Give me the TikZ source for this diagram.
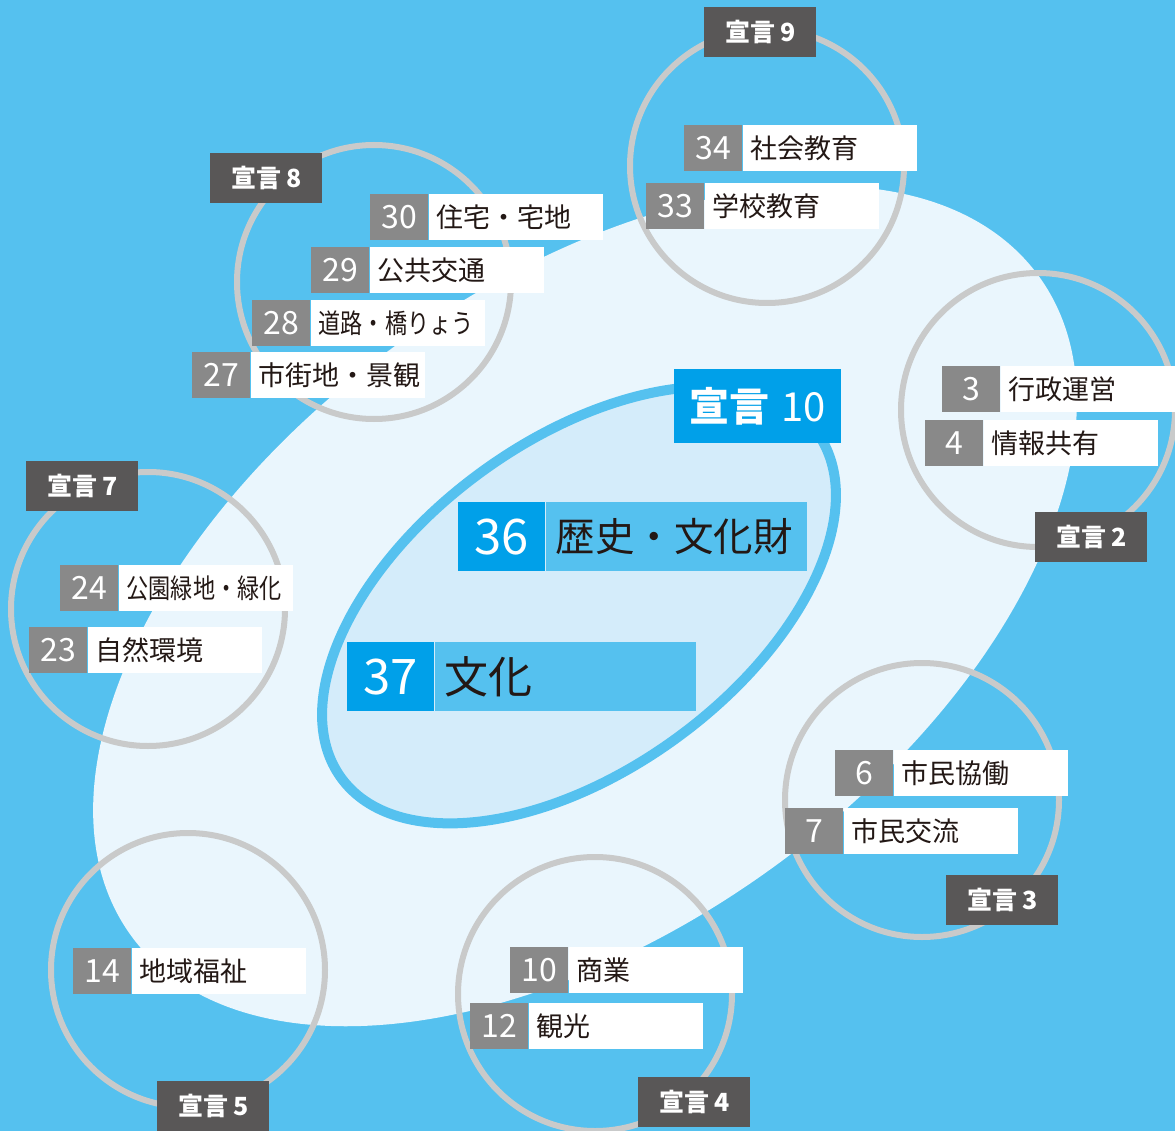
\documentclass[tikz,border=0pt]{standalone}
\usepackage{fontspec}
\usepackage{graphicx}
\setmainfont{Noto Sans CJK JP}
\definecolor{bgblue}{HTML}{55C1EF}
\definecolor{bigfill}{HTML}{EAF6FD}
\definecolor{innerfill}{HTML}{D4ECFA}
\definecolor{ringgray}{HTML}{C9CACA}
\definecolor{numgray}{HTML}{898989}
\definecolor{declgray}{HTML}{595757}
\definecolor{cyanbox}{HTML}{00A0E9}
\definecolor{inktext}{HTML}{231815}
\tikzset{
  ring/.style={draw=ringgray, line width=6pt},
  numbox/.style={fill=numgray, text=white, minimum width=58pt, minimum height=46pt, inner sep=0pt, font=\fontsize{32}{32}\selectfont},
  txtbox/.style={fill=white, text=inktext, text width=158pt, align=left, inner xsep=8pt, inner ysep=0pt, minimum height=46pt, font=\fontsize{27}{27}\selectfont},
  numbig/.style={fill=cyanbox, text=white, minimum width=87pt, minimum height=69pt, inner sep=0pt, font=\fontsize{49}{49}\selectfont},
  txtbig/.style={fill=bgblue, text=inktext, text width=241pt, align=left, inner xsep=10pt, inner ysep=0pt, minimum height=69pt, font=\fontsize{39.5}{40}\selectfont},
  declbox/.style={fill=declgray, text=white, minimum width=112pt, minimum height=50pt, inner sep=0pt, font=\bfseries\fontsize{25}{25}\selectfont},
  declbig/.style={fill=cyanbox, text=white, minimum width=167pt, minimum height=74pt, inner sep=0pt, font=\bfseries\fontsize{40}{40}\selectfont}
}
\newcommand\itemrow[5]{%
  \node[numbox, anchor=north west] (#1n) at (#2,#3) {#4};
  \node[txtbox, anchor=west] (#1t) at (#1n.east) {#5};}
\newcommand\bigrow[5]{%
  \node[numbig, anchor=north west] (#1n) at (#2,#3) {#4};
  \node[txtbig, anchor=west] (#1t) at (#1n.east) {#5};}
\newcommand\narrowtxt[1]{\scalebox{0.82}[1]{#1}}
\begin{document}
\begin{tikzpicture}[x=1pt, y=-1pt]
\useasboundingbox (0,0) rectangle (1175,1131);
\fill[bgblue] (0,0) rectangle (1175,1131);
% big ellipse
\begin{scope}[shift={(585,606)}, rotate=36]
  \fill[bigfill] (0,0) ellipse (561 and 322);
\end{scope}
% inner ellipse
\begin{scope}[shift={(579,605)}, rotate=36]
  \draw[draw=bgblue, fill=innerfill, line width=10pt] (0,0) ellipse (294 and 165);
\end{scope}
% rings
\draw[ring] (767,166) circle (137);
\draw[ring] (374,282) circle (137);
\draw[ring] (148,609) circle (137);
\draw[ring] (1038,410) circle (137);
\draw[ring] (922,800) circle (137);
\draw[ring] (188,970) circle (137);
\draw[ring] (595,994) circle (137);
% declaration 9
\node[declbox, anchor=north west] (d9) at (704,7) {宣言\hspace{5pt}9};
\itemrow{r34}{684}{125}{34}{社会教育}
\itemrow{r33}{646}{183}{33}{学校教育}
% declaration 8
\node[declbox, anchor=north west] (d8) at (210,153) {宣言\hspace{5pt}8};
\itemrow{r30}{370}{194}{30}{住宅・宅地}
\itemrow{r29}{311}{247}{29}{公共交通}
\itemrow{r28}{252}{300}{28}{\narrowtxt{道路・橋りょう}}
\itemrow{r27}{192}{352}{27}{市街地・景観}
% declaration 7
\node[declbox, anchor=north west] (d7) at (26,461) {宣言\hspace{5pt}7};
\itemrow{r24}{60}{565}{24}{\narrowtxt{公園緑地・緑化}}
\itemrow{r23}{29}{627}{23}{自然環境}
% declaration 2
\itemrow{r3}{942}{366}{3}{行政運営}
\itemrow{r4}{925}{420}{4}{情報共有}
\node[declbox, anchor=north west] (d2) at (1035,512) {宣言\hspace{5pt}2};
% declaration 3
\itemrow{r6}{835}{750}{6}{市民協働}
\itemrow{r7}{785}{808}{7}{市民交流}
\node[declbox, anchor=north west] (d3) at (946,875) {宣言\hspace{5pt}3};
% declaration 5
\itemrow{r14}{73}{948}{14}{地域福祉}
\node[declbox, anchor=north west] (d5) at (157,1081) {宣言\hspace{5pt}5};
% declaration 4
\itemrow{r10}{510}{947}{10}{商業}
\itemrow{r12}{470}{1003}{12}{観光}
\node[declbox, anchor=north west] (d4) at (638,1077) {宣言\hspace{5pt}4};
% declaration 10
\node[declbig, anchor=north west] (d10) at (674,369) {宣言\hspace{12pt}{\mdseries 10}};
\bigrow{r36}{458}{502}{36}{歴史・文化財}
\bigrow{r37}{347}{642}{37}{{\fontsize{44}{44}\selectfont 文化}}
\end{tikzpicture}
\end{document}
